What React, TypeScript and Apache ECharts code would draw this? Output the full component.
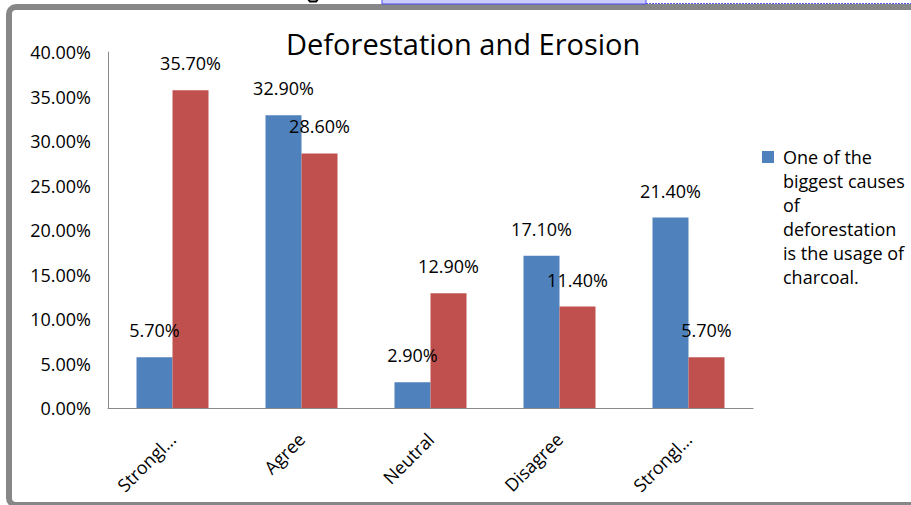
import React, { useEffect, useRef } from "react";
import * as echarts from "echarts";

const categories = ["Strongl...", "Agree", "Neutral", "Disagree", "Strongl..."];
const seriesNames = [
  "One of the biggest causes of deforestation is the usage of charcoal.",
  "Series 2",
];
const blueValues = [5.7, 32.9, 2.9, 17.1, 21.4];
const redValues = [35.7, 28.6, 12.9, 11.4, 5.7];
const yTicks = { min: 0, max: 40, interval: 5 };
const legendLines = ["One of the", "biggest causes", "of", "deforestation", "is the usage of", "charcoal."];
const titleText = "Deforestation and Erosion";

const FONT = "'Open Sans', sans-serif";

export default function App() {
  const ref = useRef<HTMLDivElement>(null);
  useEffect(() => {
    document.body.style.margin = "0";
    const chart = echarts.init(ref.current!, null, { renderer: "svg" });
    const label = {
      show: true,
      position: "top" as const,
      distance: 18,
      color: "#000",
      fontFamily: FONT,
      fontSize: 18,
      formatter: (p: any) => Number(p.value).toFixed(2) + "%",
    };
    chart.setOption({
      animation: false,
      backgroundColor: "#fff",
      title: {
        text: titleText,
        left: 286,
        top: 29,
        padding: 0,
        textStyle: { fontFamily: FONT, fontSize: 29, fontWeight: "normal", color: "#000" },
      },
      legend: {
        data: [seriesNames[0]],
        left: 757,
        top: 140,
        icon: "path://M0,0h0.01v0.01h-0.01z M0,6h12v12h-12z M0,144h0.01v0.01h-0.01z",
        itemWidth: 12,
        itemHeight: 144,
        formatter: () => legendLines.join("\n"),
        textStyle: {
          fontFamily: FONT,
          fontSize: 18,
          color: "#000",
          lineHeight: 24,
          padding: [0, 0, 0, 4],
        },
      },
      grid: { left: 108, right: 158, top: 52, bottom: 97, containLabel: false },
      xAxis: {
        type: "category",
        data: categories,
        axisLine: { lineStyle: { color: "#8a8a8a", width: 1 } },
        axisTick: { show: false },
        axisLabel: {
          rotate: 45,
          margin: 28,
          interval: 0,
          color: "#000",
          fontFamily: FONT,
          fontSize: 18,
        },
      },
      yAxis: {
        type: "value",
        min: yTicks.min,
        max: yTicks.max,
        interval: yTicks.interval,
        splitLine: { show: false },
        axisLine: { show: true, lineStyle: { color: "#8a8a8a", width: 1 } },
        axisTick: { show: false },
        axisLabel: {
          margin: 17,
          color: "#000",
          fontFamily: FONT,
          fontSize: 18,
          formatter: (v: number) => v.toFixed(2) + "%",
        },
      },
      series: [
        {
          name: seriesNames[0],
          type: "bar",
          data: blueValues,
          barWidth: 36,
          barGap: "0%",
          itemStyle: { color: "#4F81BD" },
          label,
        },
        {
          name: seriesNames[1],
          type: "bar",
          data: redValues,
          barWidth: 36,
          barGap: "0%",
          itemStyle: { color: "#C0504D" },
          label,
        },
      ],
      graphic: [
        {
          type: "rect",
          shape: { x: 9, y: 7, width: 1000, height: 498, r: 7 },
          style: { fill: "none", stroke: "#878787", lineWidth: 6 },
          silent: true,
        },
        {
          type: "rect",
          shape: { x: 382, y: -2, width: 264, height: 6 },
          style: { fill: "#ccccf8", stroke: "#4a4af0", lineWidth: 1 },
          silent: true,
        },
        {
          type: "line",
          shape: { x1: 646, y1: 3.5, x2: 911, y2: 3.5 },
          style: { stroke: "#5a5af0", lineWidth: 1, lineDash: [2, 1] },
          silent: true,
        },
        {
          type: "polyline",
          shape: { points: [[308, -1], [310, 1.5], [316, 1.5], [318, -1]] },
          style: { stroke: "#000", lineWidth: 2, fill: "none" },
          silent: true,
        },
      ],
    });
    return () => chart.dispose();
  }, []);
  return (
    <div
      ref={ref}
      style={{ position: "fixed", left: 0, top: 0, width: 911, height: 505 }}
    />
  );
}
